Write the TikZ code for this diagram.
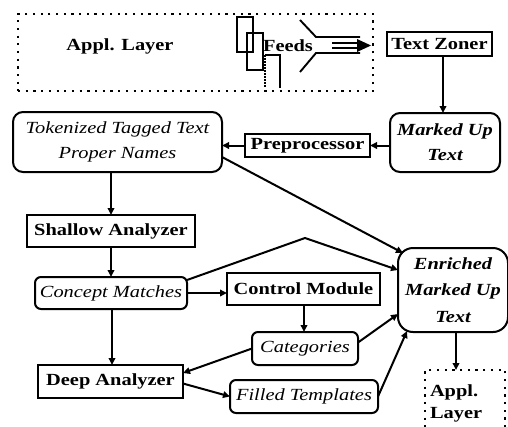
\documentclass[tikz,border=0pt]{standalone}
\usepackage{fontspec}
\setmainfont{Liberation Serif}[FakeStretch=1.2]
\usetikzlibrary{arrows.meta,calc}
\begin{document}
\begin{tikzpicture}[x=1pt,y=-1pt,
  every node/.style={inner sep=0pt,outer sep=0pt},
  sqbox/.style={draw, line width=2pt, font=\fontsize{17}{25}\selectfont\bfseries},
  rbox/.style={draw, line width=2pt, rounded corners=8pt, align=center, font=\fontsize{17}{25}\selectfont\itshape},
  rboxb/.style={rbox, font=\fontsize{17}{25}\selectfont\bfseries\itshape},
  dotbox/.style={draw, line width=2.2pt, dash pattern=on 2.2pt off 5.5pt},
  btxt/.style={font=\fontsize{17}{22}\selectfont\bfseries},
  conn/.style={line width=2pt, -{Triangle[length=7pt,width=6.5pt]}},
  icon/.style={line width=1.9pt},
]
\useasboundingbox (0,0) rectangle (508,426);

% top application layer
\node[dotbox, minimum width=355pt, minimum height=77pt] (appltop) at (195.5,52.5) {};
\node[btxt, anchor=base] (appltxt) at (120,50) {Appl. Layer};
\node[btxt, anchor=base] (feeds) at (288,51) {Feeds};
% feeds icon
\draw[icon, fill=white] (237,17) rectangle (253,52);
\draw[icon] (247,33) rectangle (263,70);
\draw[icon] (265,55) -- (280,55) -- (280,88);
\draw[icon, dash pattern=on 1.5pt off 1.5pt] (265,55) -- (265,88);
\draw[icon] (300,20) -- (316,37) -- (360,37);
\draw[icon] (300,72) -- (316,53) -- (360,53);
\draw[icon] (332,43) -- (360,43);
\draw[icon] (332,48) -- (360,48);
\fill (357,39) -- (371,45.5) -- (357,52) -- cycle;

% nodes
\node[sqbox, minimum width=105pt, minimum height=24pt] (tz) at (439.5,44) {Text Zoner};
\node[rboxb, minimum width=110pt, minimum height=59pt, rounded corners=10pt] (mu) at (445,142.5) {Marked Up\\Text};
\node[sqbox, minimum width=125pt, minimum height=23pt] (pre) at (307.5,145.5) {Preprocessor};
\node[rbox, minimum width=209pt, minimum height=60pt, rounded corners=10pt] (tok) at (117.5,142) {Tokenized Tagged Text\\Proper Names};
\node[sqbox, minimum width=168pt, minimum height=32pt] (sha) at (111,231) {Shallow Analyzer};
\node[rbox, minimum width=152pt, minimum height=32pt, rounded corners=6pt] (con) at (111,293) {Concept Matches};
\node[sqbox, minimum width=153pt, minimum height=32pt] (ctl) at (303.5,289) {Control Module};
\node[rboxb, minimum width=110pt, minimum height=84pt, rounded corners=15pt, font=\fontsize{17}{26.5}\selectfont\bfseries\itshape] (enr) at (453,290) {Enriched\\Marked Up\\Text};
\node[rbox, minimum width=106pt, minimum height=33pt, rounded corners=6pt] (cat) at (305,348.5) {Categories};
\node[sqbox, minimum width=145pt, minimum height=33pt] (deep) at (110.5,381.5) {Deep Analyzer};
\node[rbox, minimum width=148pt, minimum height=33pt, rounded corners=6pt] (fil) at (304,396.5) {Filled Templates};
\node[dotbox, minimum width=80pt, minimum height=62pt] (appl2) at (465,401) {};
\node[btxt, anchor=north west, align=left] (appl2txt) at (430,385) {Appl.\\Layer};

% connectors
\coordinate (peak) at (305,238);
\draw[conn] ([xshift=3.5pt]tz.south) -- ([xshift=3.5pt]tz.south |- mu.north);
\draw[conn] (mu.west |- pre.east) -- (pre.east);
\draw[conn] (pre.west) -- (pre.west -| tok.east);
\draw[conn] (sha.north |- tok.south) -- (sha.north);
\draw[conn] (sha.south) -- (con.north);
\draw[conn] (con.east) -- (con.east -| ctl.west);
\draw[conn] ($(con.north east)+(0,3)$) -- (peak) -- ($(enr.north west)+(0,22)$);
\draw[conn] ($(tok.south east)+(0,-15)$) -- ($(enr.north west)+(5,5)$);
\draw[conn] ([xshift=0.5pt]ctl.south) -- ([xshift=0.5pt]ctl.south |- cat.north);
\draw[conn] ($(cat.east)+(0,-6)$) -- ($(enr.south west)+(0,-18)$);
\draw[conn] (cat.west) -- ($(deep.north east)+(0,8)$);
\draw[conn] ([xshift=1pt]con.south) -- ([xshift=1pt]con.south |- deep.north);
\draw[conn] ($(deep.east)+(0,2)$) -- (fil.west);
\draw[conn] (fil.east) -- ($(enr.south west)+(9,-1)$);
\draw[conn] ([xshift=3pt]enr.south) -- ([xshift=3pt]enr.south |- appl2.north);
\end{tikzpicture}
\end{document}
